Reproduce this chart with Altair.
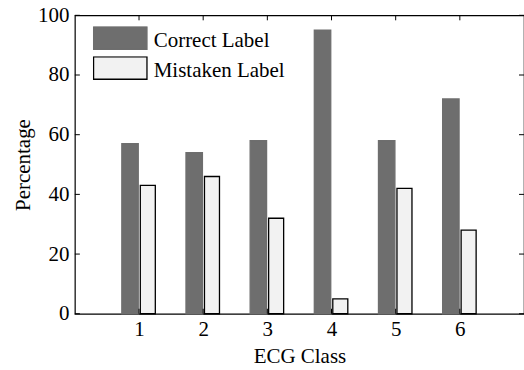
import altair as alt
import pandas as pd

# ECG classes and the share (%) of correct vs. mistaken labels per class
classes = [1, 2, 3, 4, 5, 6]
correct_pct = [57, 54, 58, 95, 58, 72]
mistaken_pct = [43, 46, 32, 5, 42, 28]
series = ["Correct Label", "Mistaken Label"]
y_ticks = [0, 20, 40, 60, 80, 100]

rows = []
for c, a, b in zip(classes, correct_pct, mistaken_pct):
    rows.append({"cls": c, "series": series[0], "pct": a})
    rows.append({"cls": c, "series": series[1], "pct": b})
bars_df = pd.DataFrame(rows)
xt_df = pd.DataFrame({"cls": classes})
yt_df = pd.DataFrame({"pct": y_ticks})

W, H = 450, 299
FONT = "Liberation Serif"
FS = 21
TICK = 5

x_scale = alt.Scale(domain=[0, 7], nice=False, zero=False)
y_scale = alt.Scale(domain=[0, 100], nice=False)

x_axis = alt.Axis(values=classes, title="ECG Class", domain=False, ticks=False,
                  tickSize=0, grid=False, labelPadding=5, titlePadding=6,
                  format="d")
y_axis = alt.Axis(values=y_ticks, title="Percentage", domain=False, ticks=False,
                  tickSize=0, grid=False, labelPadding=6, titlePadding=4,
                  format="d")

# wide rectangular swatches, each entry clipped to a fixed 30 px row
legend = alt.Legend(
    title=None, orient="none", legendX=18, legendY=11,
    symbolType="M-1,-0.54L1,-0.54L1,0.30L-1,0.30Z",
    symbolSize=2862, symbolStrokeWidth=1.3,
    labelFont=FONT, labelFontSize=FS, labelColor="black",
    labelOffset=6, rowPadding=0, clipHeight=30, padding=0, labelLimit=300,
)

# grouped bars: each series sits just left / right of the class position
bars = (
    alt.Chart(bars_df)
    .transform_calculate(
        pos="datum.cls + (datum.series === 'Correct Label' ? -0.14 : 0.137)",
        half="datum.series === 'Correct Label' ? 0.128 : 0.117",
    )
    .transform_calculate(lo="datum.pos - datum.half", hi="datum.pos + datum.half")
    .mark_rect(strokeWidth=1.3)
    .encode(
        x=alt.X("lo:Q", scale=x_scale, axis=x_axis),
        x2="hi:Q",
        y=alt.Y("pct:Q", scale=y_scale, axis=y_axis),
        y2=alt.datum(0),
        fill=alt.Fill(
            "series:N",
            scale=alt.Scale(domain=series, range=["#6e6e6e", "#f2f2f2"]),
            legend=legend,
        ),
        stroke=alt.Stroke(
            "series:N",
            scale=alt.Scale(domain=series, range=["#6e6e6e", "#000000"]),
            legend=legend,
        ),
    )
)

# inward tick marks on all four sides of the frame
tick_style = dict(color="black", strokeWidth=1)
x_bottom = alt.Chart(xt_df).mark_rule(**tick_style).encode(
    x=alt.X("cls:Q", scale=x_scale, axis=x_axis),
    y=alt.value(H - TICK), y2=alt.value(H),
)
x_top = alt.Chart(xt_df).mark_rule(**tick_style).encode(
    x=alt.X("cls:Q", scale=x_scale, axis=x_axis),
    y=alt.value(0), y2=alt.value(TICK),
)
y_left = alt.Chart(yt_df).mark_rule(**tick_style).encode(
    y=alt.Y("pct:Q", scale=y_scale, axis=y_axis),
    x=alt.value(0), x2=alt.value(TICK),
)
y_right = alt.Chart(yt_df).mark_rule(**tick_style).encode(
    y=alt.Y("pct:Q", scale=y_scale, axis=y_axis),
    x=alt.value(W - TICK), x2=alt.value(W),
)

chart = (
    alt.layer(bars, x_bottom, x_top, y_left, y_right)
    .properties(
        width=W, height=H,
        autosize=alt.AutoSizeParams(type="none"),
        padding={"left": 75, "top": 15, "right": 0, "bottom": 56},
        background="white",
    )
    .configure_view(stroke="black", strokeWidth=1.2)
    .configure_axis(
        labelFont=FONT, labelFontSize=FS, labelColor="black",
        titleFont=FONT, titleFontSize=FS, titleColor="black",
        titleFontWeight="normal",
    )
)

chart.save("out.html", embed_options={"renderer": "svg", "actions": False})
